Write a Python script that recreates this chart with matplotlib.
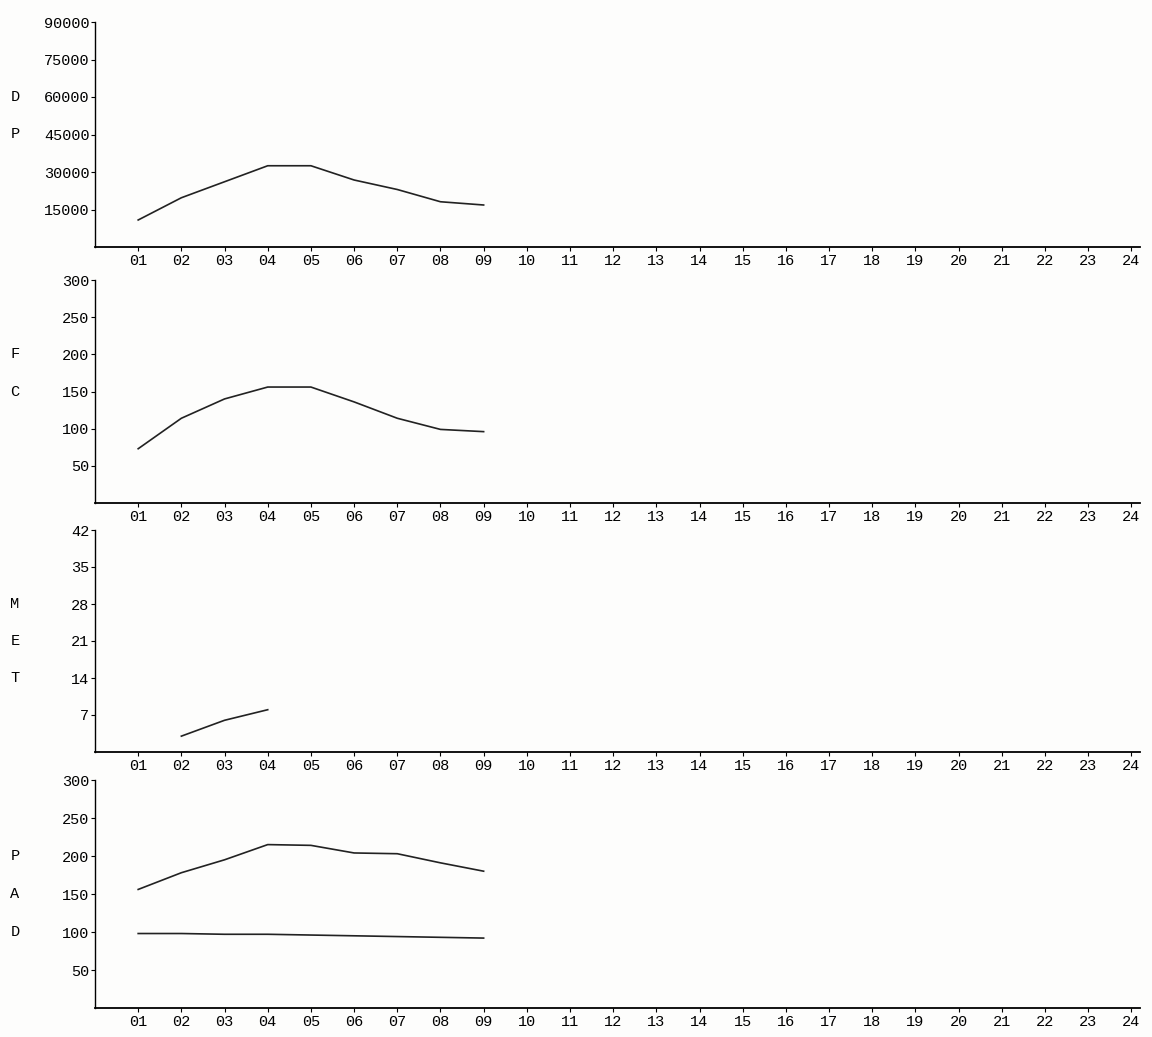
import matplotlib.pyplot as plt

# Hours on the x axis (01..24), the series only cover the first hours
horas = [f"{h:02d}" for h in range(1, 25)]
x_dp = [1, 2, 3, 4, 5, 6, 7, 8, 9]
dp = [10800, 19700, 26100, 32500, 32500, 26800, 23000, 18100, 16800]
x_fc = [1, 2, 3, 4, 5, 6, 7, 8, 9]
fc = [73, 114, 140, 156, 156, 136, 114, 99, 96]
x_met = [2, 3, 4]
met = [3, 6, 8]
x_pa = [1, 2, 3, 4, 5, 6, 7, 8, 9]
pas = [156, 178, 195, 215, 214, 204, 203, 191, 180]
pad = [98, 98, 97, 97, 96, 95, 94, 93, 92]

# y ticks and the letters written down the left margin
yt_dp = [15000, 30000, 45000, 60000, 75000, 90000]
yt_fc = [50, 100, 150, 200, 250, 300]
yt_met = [7, 14, 21, 28, 35, 42]
yt_pa = [50, 100, 150, 200, 250, 300]

FONT = "Liberation Mono"
W, H = 1152, 1037

fig = plt.figure(figsize=(W / 100, H / 100), dpi=100)
fig.patch.set_facecolor("#fdfdfc")

# (top px, bottom px) of each panel
rows = [(22, 247), (280, 503), (530, 752), (780, 1008)]
left, right = 95, 1140


def make_axes(top, bottom):
    ax = fig.add_axes([left / W, 1 - bottom / H, (right - left) / W, (bottom - top) / H])
    ax.set_facecolor("none")
    ax.spines["top"].set_visible(False)
    ax.spines["right"].set_visible(False)
    ax.spines["left"].set_linewidth(1.0)
    ax.spines["bottom"].set_linewidth(1.3)
    ax.set_xlim(0, 24.2)
    ax.set_xticks(range(1, 25))
    ax.set_xticklabels(horas, fontfamily=FONT, fontsize=11)
    ax.tick_params(axis="x", length=3, width=0.8, pad=2)
    ax.tick_params(axis="y", length=3, width=0.8, pad=1)
    return ax


def set_y(ax, ticks, top):
    ax.set_ylim(0, top)
    ax.set_yticks(ticks)
    ax.set_yticklabels([str(t) for t in ticks], fontfamily=FONT, fontsize=11)


# Panel 1 - DP
ax1 = make_axes(*rows[0])
set_y(ax1, yt_dp, 90000)
ax1.plot(x_dp, dp, color="#222222", lw=1.2)

# Panel 2 - FC
ax2 = make_axes(*rows[1])
set_y(ax2, yt_fc, 300)
ax2.plot(x_fc, fc, color="#222222", lw=1.2)

# Panel 3 - MET
ax3 = make_axes(*rows[2])
set_y(ax3, yt_met, 42)
ax3.plot(x_met, met, color="#222222", lw=1.2)

# Panel 4 - PA (sistolica e diastolica)
ax4 = make_axes(*rows[3])
set_y(ax4, yt_pa, 300)
ax4.plot(x_pa, pas, color="#222222", lw=1.2)
ax4.plot(x_pa, pad, color="#222222", lw=1.2)

# letters down the left margin, lined up with tick rows
letters = [
    (ax1, [("D", 60000), ("P", 45000)]),
    (ax2, [("F", 200), ("C", 150)]),
    (ax3, [("M", 28), ("E", 21), ("T", 14)]),
    (ax4, [("P", 200), ("A", 150), ("D", 100)]),
]
for ax, items in letters:
    for letra, yv in items:
        ax.annotate(letra, xy=(0, yv), xycoords=("axes fraction", "data"),
                    xytext=(-80, 0), textcoords="offset pixels",
                    fontfamily=FONT, fontsize=11, ha="center", va="center")

fig.savefig("out.png", dpi=100, facecolor=fig.get_facecolor())
